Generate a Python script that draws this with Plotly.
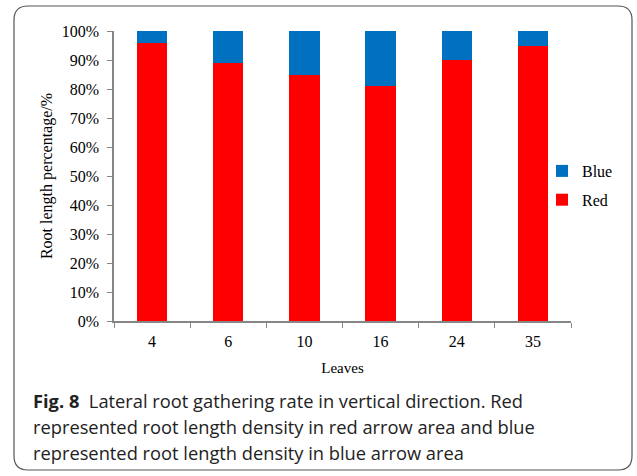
import plotly.graph_objects as go

categories = ["4", "6", "10", "16", "24", "35"]
red_values = [96, 89, 85, 81, 90, 95]
blue_values = [4, 11, 15, 19, 10, 5]
y_ticks = [0, 10, 20, 30, 40, 50, 60, 70, 80, 90, 100]
y_tick_labels = [f"{v}%" for v in y_ticks]

W, H = 637, 476
L, R, T, B = 114, 66, 31, 155
PW, PH = W - L - R, H - T - B

def px(x):
    return (x - L) / PW

def py(y):
    return (H - B - y) / PH

serif = "Liberation Serif, Times New Roman, serif"

fig = go.Figure()
fig.add_trace(go.Bar(x=categories, y=red_values, name="Red", marker_color="#ff0000",
                     marker_line_width=0, legendgroup="r", legendrank=2))
fig.add_trace(go.Bar(x=categories, y=blue_values, name="Blue", marker_color="#0070c0",
                     marker_line_width=0, legendgroup="b", legendrank=1))

# rounded border
x0, x1, y0, y1, r = 14, 632, 6, 470, 14
path = (f"M {px(x0+r)},{py(y0)} L {px(x1-r)},{py(y0)} Q {px(x1)},{py(y0)} {px(x1)},{py(y0+r)} "
        f"L {px(x1)},{py(y1-r)} Q {px(x1)},{py(y1)} {px(x1-r)},{py(y1)} "
        f"L {px(x0+r)},{py(y1)} Q {px(x0)},{py(y1)} {px(x0)},{py(y1-r)} "
        f"L {px(x0)},{py(y0+r)} Q {px(x0)},{py(y0)} {px(x0+r)},{py(y0)} Z")

fig.update_layout(
    width=W, height=H,
    margin=dict(l=L, r=R, t=T, b=B, autoexpand=False),
    paper_bgcolor="white", plot_bgcolor="white",
    barmode="stack", bargap=0.6,
    font=dict(family=serif, size=16, color="#000"),
    xaxis=dict(showline=True, linecolor="#868686", linewidth=1.5, ticks="outside",
               tickcolor="#868686", ticklen=5, tickson="boundaries", showgrid=False,
               tickfont=dict(family=serif, size=16), ticklabelstandoff=5,
               title=dict(text="Leaves", font=dict(family=serif, size=15), standoff=14)),
    yaxis=dict(range=[0, 100], tickvals=y_ticks, ticktext=y_tick_labels, showline=True,
               linecolor="#868686", linewidth=1.5, ticks="outside", tickcolor="#868686",
               ticklen=5, showgrid=False, zeroline=False, ticklabelstandoff=5,
               tickfont=dict(family=serif, size=16),
               title=dict(text="Root length percentage/%", font=dict(family=serif, size=16),
                          standoff=5)),
    legend=dict(x=px(542), y=py(154), xanchor="left", yanchor="top",
                traceorder="grouped", tracegroupgap=5,
                font=dict(family=serif, size=16), itemwidth=30, bgcolor="rgba(0,0,0,0)"),
    shapes=[dict(type="path", xref="paper", yref="paper", path=path,
                 line=dict(color="#555", width=1.2), fillcolor="rgba(0,0,0,0)", layer="below")],
)

cap_font = dict(family="Open Sans, Noto Sans, sans-serif", size=18.3, color="#222")
lines = [
    "<b>Fig. 8</b>  Lateral root gathering rate in vertical direction. Red",
    "represented root length density in red arrow area and blue",
    "represented root length density in blue arrow area",
]
for i, t in enumerate(lines):
    fig.add_annotation(text=t, xref="paper", yref="paper", x=px(31), y=py(400 + i * 26),
                       xanchor="left", yanchor="middle", showarrow=False, font=cap_font)

fig.write_html("out.html", config={"displayModeBar": False},
               post_script="document.body.style.margin='0';")
